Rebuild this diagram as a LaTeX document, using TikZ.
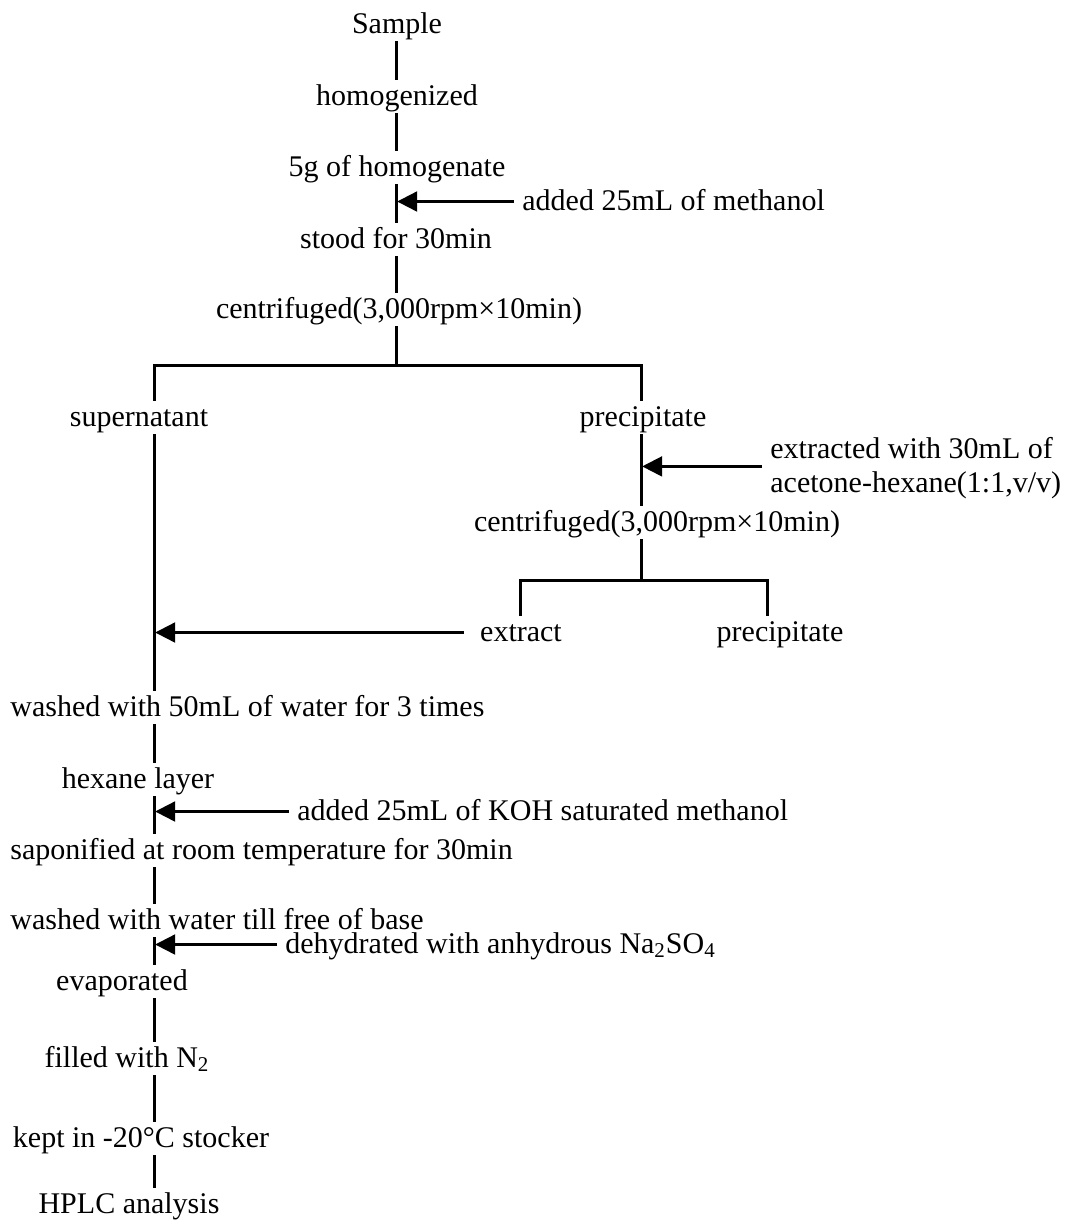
\documentclass[tikz,border=0pt]{standalone}
\usepackage{fontspec}
\setmainfont{Liberation Serif}
\usetikzlibrary{arrows.meta}
\begin{document}
\begin{tikzpicture}[x=0.5pt,y=-0.5pt,
  txt/.style={inner xsep=0pt, inner ysep=2pt, text height=10.5pt, text depth=2pt, font=\fontsize{15}{18}\selectfont},
  lab/.style={txt, inner xsep=4pt},
  ln/.style={line width=1.5pt},
  arr/.style={line width=1.1pt, shorten >=0.6pt, -{Triangle[length=10pt,width=10pt]}}]
\useasboundingbox (0,0) rectangle (1066,1223);
\fill[white] (0,0) rectangle (1066,1223);
% columns
\coordinate (cM) at (396,0);
\coordinate (cL) at (154,0);
\coordinate (cR) at (641,0);
\coordinate (cE) at (520,0);
\coordinate (cP) at (767,0);
\coordinate (s1) at (396,365);
\coordinate (s2) at (641,580);
% main column
\node[txt,anchor=base] (sample) at (397,33) {Sample};
\node[txt,anchor=base] (homog) at (397,105) {homogenized};
\node[txt,anchor=base] (five) at (397,176) {5g of homogenate};
\node[lab,anchor=base west] (meth) at (514,210) {added 25mL of methanol};
\node[txt,anchor=base] (stood) at (396,248) {stood for 30min};
\node[txt,anchor=base] (cen1) at (399,318) {centrifuged(3,000rpm×10min)};
% branches
\node[txt,anchor=base] (sup) at (139,426) {supernatant};
\node[txt,anchor=base] (prec) at (643,426) {precipitate};
\node[lab,anchor=base west] (exa) at (762,458) {extracted with 30mL of};
\node[lab,anchor=base west] (exb) at (762,492) {acetone-hexane(1:1,v/v)};
\node[txt,anchor=base] (cen2) at (657,531) {centrifuged(3,000rpm×10min)};
\node[txt,anchor=base,inner xsep=8pt] (ext) at (521,641) {extract};
\node[txt,anchor=base] (prec2) at (780,641) {precipitate};
% lower column
\node[txt,anchor=base west] (wash1) at (10,716) {washed with 50mL of water for 3 times};
\node[txt,anchor=base] (hex) at (138,788) {hexane layer};
\node[lab,anchor=base west] (koh) at (289,820) {added 25mL of KOH saturated methanol};
\node[txt,anchor=base west] (sap) at (10,859) {saponified at room temperature for 30min};
\node[txt,anchor=base west] (wash2) at (10,929) {washed with water till free of base};
\node[lab,anchor=base west] (dehy) at (277,953) {dehydrated with anhydrous Na\textsubscript{2}SO\textsubscript{4}};
\node[txt,anchor=base] (evap) at (122,990) {evaporated};
\node[txt,anchor=base] (fill) at (127,1067) {filled with N\textsubscript{2}};
\node[txt,anchor=base] (kept) at (141,1147) {kept in -20°C stocker};
\node[txt,anchor=base] (hplc) at (129,1213) {HPLC analysis};
% connectors main
\draw[ln] (sample.south -| cM) -- (homog.north -| cM);
\draw[ln] (homog.south -| cM) -- (five.north -| cM);
\draw[ln] (five.south -| cM) -- (stood.north -| cM);
\draw[ln] (stood.south -| cM) -- (cen1.north -| cM);
\draw[ln] (cen1.south -| cM) -- (s1);
\draw[ln] (sup.north -| cL) |- (s1) -| (prec.north -| cR);
\draw[ln] (sup.south -| cL) -- (wash1.north -| cL);
\draw[ln] (prec.south -| cR) -- (cen2.north -| cR);
\draw[ln] (cen2.south -| cR) -- (s2);
\draw[ln] (ext.north -| cE) |- (s2) -| (prec2.north -| cP);
% lower connectors
\draw[ln] (wash1.south -| cL) -- (hex.north -| cL);
\draw[ln] (hex.south -| cL) -- (sap.north -| cL);
\draw[ln] (sap.south -| cL) -- (wash2.north -| cL);
\draw[ln] (wash2.south -| cL) -- (evap.north -| cL);
\draw[ln] (evap.south -| cL) -- (fill.north -| cL);
\draw[ln] (fill.south -| cL) -- (kept.north -| cL);
\draw[ln] (kept.south -| cL) -- (hplc.north -| cL);
% arrows
\draw[arr] (meth.west) -- (meth.west -| cM);
\draw[arr] (exa.south west) -- (exa.south west -| cR);
\draw[arr] (ext.west) -- (ext.west -| cL);
\draw[arr] (koh.west) -- (koh.west -| cL);
\draw[arr] (dehy.west) -- (dehy.west -| cL);
\end{tikzpicture}
\end{document}
